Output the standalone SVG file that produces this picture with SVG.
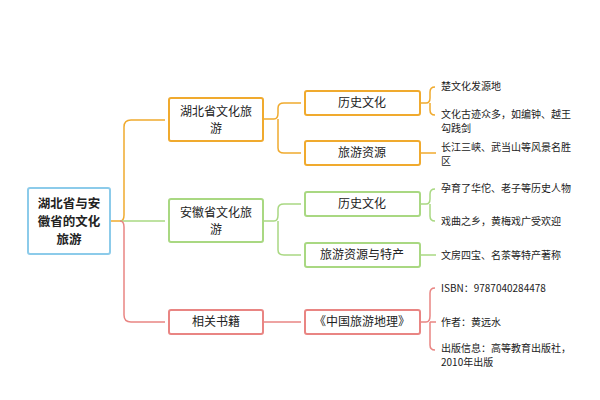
<svg xmlns="http://www.w3.org/2000/svg" width="600" height="400" viewBox="0 0 600 400">
<style>
text{font-family:"Noto Sans CJK SC","Liberation Serif",serif;fill:#222}
.box{fill:#fff;stroke-width:2;rx:2}
.o{stroke:#f0aa2e}.g{stroke:#a9d882}.r{stroke:#e98583}.b{stroke:#8ccbea}
.c{fill:none;stroke-width:1.5}
.t{font-size:12px;text-anchor:middle}
.l{font-size:10px}
</style>
<rect width="600" height="400" fill="#fff"/>
<g id="connectors">
<path class="c o" d="M110 221H120Q124 221 124 215V127Q124 120 131 120H165"/>
<path class="c g" d="M120 221H165"/>
<path class="c r" d="M120 221Q124 221 124 227V315Q124 322 131 322H165"/>
<path class="c o" d="M263 119H274Q278 119 278 113V108Q278 103 284 103H301M278 119V148Q278 153 284 153H301"/>
<path class="c g" d="M263 221H274Q278 221 278 215V209Q278 204 284 204H301M278 221V250Q278 255 284 255H301"/>
<path class="c r" d="M263 322H301"/>
<path class="c o" d="M420 103H426Q430 103 430 98V92Q430 87 435 87M430 103V110Q430 115 435 115"/>
<path class="c o" d="M420 153H436"/>
<path class="c g" d="M420 204H426Q430 204 430 199V194Q430 189 435 189M430 204V216Q430 221 435 221"/>
<path class="c g" d="M420 255H436"/>
<path class="c r" d="M420 322H426Q430 322 430 316V293Q430 288 435 288M430 322H436M430 322V345Q430 350 435 350"/>
</g>
<g id="root"><rect class="box b" x="28" y="188" width="82" height="66"/>
<text class="t" style="font-size:12.5px;font-weight:bold"><tspan x="69" y="208">湖北省与安</tspan><tspan x="69" y="226">徽省的文化</tspan><tspan x="69" y="244">旅游</tspan></text></g>
<g id="hubei"><rect class="box o" x="169" y="98" width="94" height="43"/>
<text class="t"><tspan x="216" y="116">湖北省文化旅</tspan><tspan x="216" y="133">游</tspan></text></g>
<g id="anhui"><rect class="box g" x="169" y="199" width="94" height="43"/>
<text class="t"><tspan x="216" y="217">安徽省文化旅</tspan><tspan x="216" y="234">游</tspan></text></g>
<g id="books"><rect class="box r" x="169" y="310" width="94" height="24"/>
<text class="t" x="216" y="326">相关书籍</text></g>
<g id="hb-hist"><rect class="box o" x="305" y="91" width="115" height="24"/><text class="t" x="362" y="107">历史文化</text></g>
<g id="hb-tour"><rect class="box o" x="305" y="141" width="115" height="24"/><text class="t" x="362" y="157">旅游资源</text></g>
<g id="ah-hist"><rect class="box g" x="305" y="192" width="115" height="24"/><text class="t" x="362" y="208">历史文化</text></g>
<g id="ah-tour"><rect class="box g" x="305" y="243" width="115" height="24"/><text class="t" x="362" y="259">旅游资源与特产</text></g>
<g id="book1"><rect class="box r" x="305" y="310" width="115" height="24"/><text class="t" x="362" y="326">《中国旅游地理》</text></g>
<g id="leaves" class="l">
<text x="441" y="90">楚文化发源地</text>
<text x="441" y="118">文化古迹众多，如编钟、越王</text>
<text x="441" y="132">勾践剑</text>
<text x="441" y="151">长江三峡、武当山等风景名胜</text>
<text x="441" y="165">区</text>
<text x="441" y="192">孕育了华佗、老子等历史人物</text>
<text x="441" y="225">戏曲之乡，黄梅戏广受欢迎</text>
<text x="441" y="259">文房四宝、名茶等特产著称</text>
<text x="441" y="292">ISBN：9787040284478</text>
<text x="441" y="326">作者：黄远水</text>
<text x="441" y="352">出版信息：高等教育出版社，</text>
<text x="441" y="366">2010年出版</text>
</g>
</svg>
